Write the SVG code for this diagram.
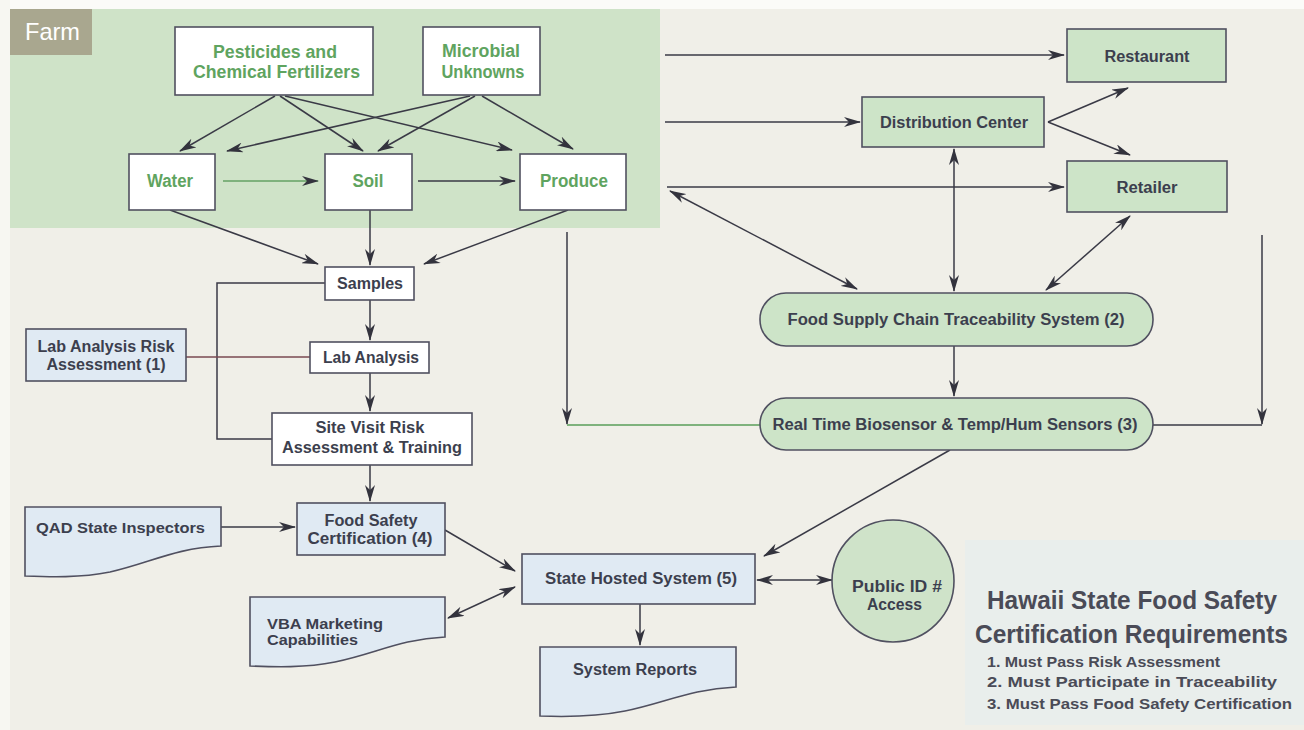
<svg xmlns="http://www.w3.org/2000/svg" width="1304" height="730" viewBox="0 0 1304 730">
  <defs>
    <marker id="ah" markerUnits="userSpaceOnUse" markerWidth="17" markerHeight="10" refX="16" refY="5" orient="auto-start-reverse" viewBox="0 0 17 10">
      <path d="M0,0 L17,5 L0,10 L5,5 Z" fill="#33333d"/>
    </marker>
  </defs>
  <style>
    text { font-family: "Liberation Sans", Arial, sans-serif; font-weight: bold; }
    .farmbox { fill: #ffffff; stroke: #505060; stroke-width: 1.6; }
    .farmtxt { fill: #5fa460; font-size: 17.5px; text-anchor: middle; }
    .gbox { fill: #cde4c8; stroke: #505060; stroke-width: 1.6; }
    .wbox { fill: #ffffff; stroke: #505060; stroke-width: 1.6; }
    .bbox { fill: #e0eaf3; stroke: #505060; stroke-width: 1.6; }
    .txt { fill: #3c3f4e; font-size: 16px; text-anchor: middle; }
    .txts { fill: #3c3f4e; font-size: 15.5px; text-anchor: start; }
    .c { fill: none; stroke: #3a3a46; stroke-width: 1.5; }
    .cg { fill: none; stroke: #7fb27d; stroke-width: 1.8; }
    .a { marker-end: url(#ah); }
    .aa { marker-start: url(#ah); marker-end: url(#ah); }
    .ttl { fill: #4a4b57; font-size: 25px; text-anchor: middle; font-weight: bold; }
    .req { fill: #4a4b57; font-size: 15px; }
  </style>

  <!-- background -->
  <rect x="0" y="0" width="1304" height="730" fill="#f0efe8"/>
  <rect x="0" y="0" width="1304" height="9" fill="#fbfbf8"/>
  <rect x="0" y="0" width="10" height="730" fill="#f7f7f2"/>
  <rect x="965" y="540" width="339" height="185" fill="#e9eeec"/>

  <!-- farm region -->
  <g id="farm">
    <rect x="10" y="9" width="650" height="219" fill="#cfe3c8"/>
    <rect x="10" y="9" width="82" height="46" fill="#a9a78f"/>
    <text x="25" y="40" fill="#ffffff" font-size="24" style="font-weight:normal" textLength="55" lengthAdjust="spacingAndGlyphs">Farm</text>
  </g>

  <!-- connectors -->
  <g id="connectors">
    <path class="c a" d="M275,96 L180,151"/>
    <path class="c a" d="M280,96 L363,151"/>
    <path class="c a" d="M285,96 L512,150"/>
    <path class="c a" d="M470,96 L227,151"/>
    <path class="c a" d="M475,96 L378,151"/>
    <path class="c a" d="M482,96 L573,149"/>
    <path class="cg a" d="M223,181 L318,181"/>
    <path class="c a" d="M418,181 L515,181"/>
    <path class="c a" d="M170,210 L318,264"/>
    <path class="c a" d="M370,210 L370,265"/>
    <path class="c a" d="M568,210 L424,264"/>
    <path class="c a" d="M370,300 L370,340"/>
    <path class="c a" d="M370,373 L370,411"/>
    <path class="c a" d="M370,465 L370,501"/>
    <path class="c" d="M325,283 H217 V439 H272"/>
    <path class="c" d="M186,357 H310" style="stroke:#7a4a52"/>
    <path class="c a" d="M665,55 H1064"/>
    <path class="c a" d="M665,122 H860"/>
    <path class="c a" d="M667,187 H1064"/>
    <path class="c aa" d="M670,191 L857,289"/>
    <path class="c a" d="M1048,122 L1128,88"/>
    <path class="c a" d="M1048,122 L1130,155"/>
    <path class="c aa" d="M954,149 V291"/>
    <path class="c aa" d="M1130,216 L1046,290"/>
    <path class="c a" d="M954,346 V396"/>
    <path class="c a" d="M567,232 V424"/>
    <path class="cg" d="M567,425 H760"/>
    <path class="c a" d="M1262,235 V424"/>
    <path class="c" d="M1153,425 H1262"/>
    <path class="c a" d="M950,450 L764,556"/>
    <path class="c a" d="M445,530 L515,571"/>
    <path class="c aa" d="M448,618 L515,587"/>
    <path class="c a" d="M640,604 V645"/>
    <path class="c aa" d="M757,580 H832"/>
    <path class="c a" d="M221,527 H295"/>
  </g>

  <!-- farm nodes -->
  <g id="pesticides">
    <rect class="farmbox" x="175" y="27" width="198" height="68"/>
    <text class="farmtxt" x="275" y="58" textLength="124" lengthAdjust="spacingAndGlyphs">Pesticides and</text>
    <text class="farmtxt" x="276.5" y="78" textLength="167" lengthAdjust="spacingAndGlyphs">Chemical Fertilizers</text>
  </g>
  <g id="microbial">
    <rect class="farmbox" x="423" y="27" width="117" height="68"/>
    <text class="farmtxt" x="481" y="57" textLength="78" lengthAdjust="spacingAndGlyphs">Microbial</text>
    <text class="farmtxt" x="483" y="78" textLength="83" lengthAdjust="spacingAndGlyphs">Unknowns</text>
  </g>
  <g id="water">
    <rect class="farmbox" x="129" y="154" width="86" height="56"/>
    <text class="farmtxt" x="170" y="187" textLength="46" lengthAdjust="spacingAndGlyphs">Water</text>
  </g>
  <g id="soil">
    <rect class="farmbox" x="325" y="154" width="87" height="56"/>
    <text class="farmtxt" x="368" y="187" textLength="31" lengthAdjust="spacingAndGlyphs">Soil</text>
  </g>
  <g id="produce">
    <rect class="farmbox" x="520" y="154" width="106" height="56"/>
    <text class="farmtxt" x="574" y="187" textLength="68" lengthAdjust="spacingAndGlyphs">Produce</text>
  </g>

  <!-- supply chain nodes -->
  <g id="restaurant">
    <rect class="gbox" x="1067" y="29" width="159" height="53"/>
    <text class="txt" x="1147" y="62" textLength="85" lengthAdjust="spacingAndGlyphs">Restaurant</text>
  </g>
  <g id="distribution">
    <rect class="gbox" x="862" y="97" width="182" height="50"/>
    <text class="txt" x="954" y="128" textLength="148" lengthAdjust="spacingAndGlyphs">Distribution Center</text>
  </g>
  <g id="retailer">
    <rect class="gbox" x="1067" y="161" width="160" height="51"/>
    <text class="txt" x="1147" y="193" textLength="61" lengthAdjust="spacingAndGlyphs">Retailer</text>
  </g>

  <!-- lab nodes -->
  <g id="samples">
    <rect class="wbox" x="325" y="267" width="89" height="33"/>
    <text class="txt" x="370" y="289" font-size="15" textLength="66" lengthAdjust="spacingAndGlyphs">Samples</text>
  </g>
  <g id="lab-analysis">
    <rect class="wbox" x="310" y="342" width="119" height="31"/>
    <text class="txt" x="371" y="363" textLength="96" lengthAdjust="spacingAndGlyphs">Lab Analysis</text>
  </g>
  <g id="lab-risk">
    <rect class="bbox" x="26" y="329" width="160" height="52"/>
    <text class="txt" x="106" y="352" textLength="137" lengthAdjust="spacingAndGlyphs">Lab Analysis Risk</text>
    <text class="txt" x="106" y="370" textLength="119" lengthAdjust="spacingAndGlyphs">Assessment (1)</text>
  </g>
  <g id="site-visit">
    <rect class="wbox" x="272" y="413" width="200" height="52"/>
    <text class="txt" x="370" y="433" textLength="109" lengthAdjust="spacingAndGlyphs">Site Visit Risk</text>
    <text class="txt" x="372" y="453" textLength="180" lengthAdjust="spacingAndGlyphs">Assessment &amp; Training</text>
  </g>

  <!-- traceability -->
  <g id="traceability">
    <rect class="gbox" x="760" y="293" width="393" height="53" rx="26" ry="26"/>
    <text class="txt" x="956" y="325" textLength="337" lengthAdjust="spacingAndGlyphs">Food Supply Chain Traceability System (2)</text>
  </g>
  <g id="sensors">
    <rect class="gbox" x="760" y="398" width="393" height="52" rx="26" ry="26"/>
    <text class="txt" x="955" y="430" textLength="365" lengthAdjust="spacingAndGlyphs">Real Time Biosensor &amp; Temp/Hum Sensors (3)</text>
  </g>

  <!-- state nodes -->
  <g id="qad">
    <path class="bbox" d="M25,507 H221 V546 C175,548 150,563 110,572 C80,578 50,577 25,576 Z"/>
    <text class="txts" x="36" y="533" textLength="169" lengthAdjust="spacingAndGlyphs">QAD State Inspectors</text>
  </g>
  <g id="food-safety">
    <rect class="bbox" x="297" y="503" width="148" height="52"/>
    <text class="txt" x="371" y="526" textLength="93" lengthAdjust="spacingAndGlyphs">Food Safety</text>
    <text class="txt" x="370" y="544" textLength="125" lengthAdjust="spacingAndGlyphs">Certification (4)</text>
  </g>
  <g id="vba">
    <path class="bbox" d="M250,597 H445 V637 C400,639 375,654 335,662 C305,668 275,667 250,666 Z"/>
    <text class="txts" x="267" y="629" textLength="116" lengthAdjust="spacingAndGlyphs">VBA Marketing</text>
    <text class="txts" x="267" y="645" textLength="91" lengthAdjust="spacingAndGlyphs">Capabilities</text>
  </g>
  <g id="state-hosted">
    <rect class="bbox" x="522" y="554" width="233" height="50"/>
    <text class="txt" x="641" y="584" textLength="192" lengthAdjust="spacingAndGlyphs">State Hosted System (5)</text>
  </g>
  <g id="system-reports">
    <path class="bbox" d="M540,647 H736 V687 C690,689 665,703 625,711 C595,717 565,717 540,716 Z"/>
    <text class="txt" x="635" y="675" textLength="124" lengthAdjust="spacingAndGlyphs">System Reports</text>
  </g>
  <g id="public-id">
    <circle cx="893" cy="581" r="61" fill="#cfe3c9" stroke="#505060" stroke-width="1.6"/>
    <text class="txt" x="897" y="592" font-size="15" textLength="90" lengthAdjust="spacingAndGlyphs">Public ID #</text>
    <text class="txt" x="894.5" y="610" font-size="15" textLength="55" lengthAdjust="spacingAndGlyphs">Access</text>
  </g>

  <!-- requirements legend -->
  <g id="requirements">
    <text class="ttl" x="1132" y="609" textLength="290" lengthAdjust="spacingAndGlyphs">Hawaii State Food Safety</text>
    <text class="ttl" x="1131.5" y="643" textLength="313" lengthAdjust="spacingAndGlyphs">Certification Requirements</text>
    <text class="req" x="987" y="667" textLength="233" lengthAdjust="spacingAndGlyphs">1. Must Pass Risk Assessment</text>
    <text class="req" x="987" y="687" textLength="290" lengthAdjust="spacingAndGlyphs">2. Must Participate in Traceability</text>
    <text class="req" x="987" y="709" textLength="305" lengthAdjust="spacingAndGlyphs">3. Must Pass Food Safety Certification</text>
  </g>
</svg>
